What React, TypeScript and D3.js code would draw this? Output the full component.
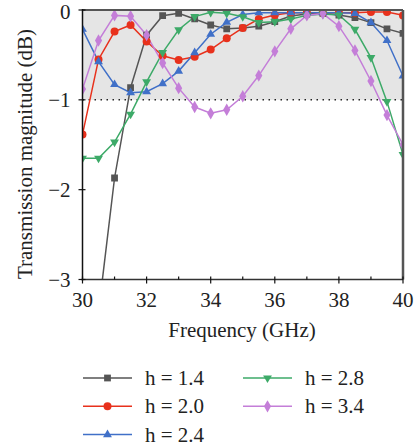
import React from "react";
import * as d3 from "d3";

const freqs = d3.range(30, 40.01, 0.5).map((v) => +v.toFixed(1));
const h14 = [null, -3.36, -1.87, -0.865, -0.28, -0.063, -0.037, -0.1, -0.167, -0.21, -0.2, -0.18, -0.13, -0.067, -0.045, -0.037, -0.056, -0.085, -0.14, -0.21, -0.26];
const h20 = [-1.385, -0.55, -0.24, -0.167, -0.35, -0.51, -0.557, -0.52, -0.44, -0.315, -0.2, -0.1, -0.056, -0.03, -0.03, -0.03, -0.03, -0.03, -0.022, -0.022, -0.06];
const h24 = [-0.215, -0.575, -0.83, -0.92, -0.91, -0.82, -0.68, -0.475, -0.27, -0.137, -0.05, -0.03, -0.03, -0.03, -0.03, -0.03, -0.03, -0.037, -0.14, -0.34, -0.735];
const h28 = [-1.65, -1.65, -1.47, -1.16, -0.8, -0.475, -0.22, -0.074, -0.026, -0.037, -0.075, -0.14, -0.13, -0.1, -0.06, -0.045, -0.056, -0.215, -0.53, -1.02, -1.61];
const h34 = [-0.88, -0.34, -0.06, -0.07, -0.28, -0.59, -0.87, -1.08, -1.15, -1.11, -0.96, -0.73, -0.46, -0.21, -0.06, -0.04, -0.18, -0.45, -0.79, -1.17, -1.5];

const seriesNames = ["h = 1.4", "h = 2.0", "h = 2.4", "h = 2.8", "h = 3.4"];
const seriesData = [h14, h20, h24, h28, h34];
const colors = ["#555555", "#e8311c", "#4070c8", "#3daa68", "#c47ed8"];
const markers = ["square", "circle", "triangle", "triangleDown", "diamond"];
const xTicks = [30, 32, 34, 36, 38, 40];
const xMinor = [31, 33, 35, 37, 39];
const yTicks = [0, -1, -2, -3];

const W = 417, H = 447;
const L = 82.5, R = 403, T = 10, B = 279.5;
const FONT = "'Liberation Serif', 'DejaVu Serif', serif";
const FS = 21;

function Marker({ type, x, y, color }: { type: string; x: number; y: number; color: string }) {
  let sym;
  if (type === "square") sym = d3.symbol(d3.symbolSquare, 46)();
  else if (type === "circle") sym = d3.symbol(d3.symbolCircle, 50)();
  else if (type === "triangle") sym = d3.symbol(d3.symbolTriangle, 34)();
  else if (type === "triangleDown") sym = d3.symbol(d3.symbolTriangle, 34)();
  else sym = d3.symbol(d3.symbolDiamond, 44)();
  const rot = type === "triangleDown" ? 180 : 0;
  return <path d={sym as string} transform={`translate(${x},${y}) rotate(${rot})`} fill={color} stroke="none" />;
}

export default function App() {
  const x = d3.scaleLinear().domain([30, 40]).range([L, R]);
  const y = d3.scaleLinear().domain([-3, 0]).range([B, T]);
  const line = d3
    .line<[number, number | null]>()
    .defined((d) => d[1] !== null)
    .x((d) => x(d[0]))
    .y((d) => y(d[1] as number));

  return (
    <svg width={W} height={H} style={{ position: "absolute", left: 0, top: 0 }} fontFamily={FONT}>
      <defs>
        <clipPath id="plotclip">
          <rect x={L} y={T} width={R - L} height={B - T} />
        </clipPath>
      </defs>
      <rect x={L} y={y(0)} width={R - L} height={y(-1) - y(0)} fill="#e5e5e5" />
      <line x1={L} x2={R} y1={y(-1)} y2={y(-1)} stroke="#222" strokeWidth={1.5} strokeDasharray="1.5,4.5" />
      <g clipPath="url(#plotclip)">
        {seriesData.map((s, i) => (
          <path
            key={i}
            d={line(freqs.map((f, j) => [f, s[j]]) as [number, number | null][]) || ""}
            fill="none"
            stroke={colors[i]}
            strokeWidth={1.5}
          />
        ))}
        {seriesData.map((s, i) =>
          s.map((v, j) =>
            v === null ? null : <Marker key={`${i}-${j}`} type={markers[i]} x={x(freqs[j])} y={y(v)} color={colors[i]} />
          )
        )}
      </g>
      {/* frame */}
      <line x1={L} x2={R} y1={T} y2={T} stroke="#555" strokeWidth={2} />
      <line x1={R} x2={R} y1={T} y2={B} stroke="#555" strokeWidth={2.5} />
      <line x1={L} x2={L} y1={T - 1} y2={B + 1} stroke="#111" strokeWidth={1.5} />
      <line x1={L - 1} x2={R} y1={B} y2={B} stroke="#333" strokeWidth={1.5} />
      {xTicks.map((t) => (
        <g key={t}>
          <line x1={x(t)} x2={x(t)} y1={B - 3} y2={B + 4} stroke="#111" strokeWidth={1.2} />
          <text x={x(t)} y={307} textAnchor="middle" fontSize={FS} fill="#222">{t}</text>
        </g>
      ))}
      {xMinor.map((t) => (
        <line key={t} x1={x(t)} x2={x(t)} y1={B - 3} y2={B} stroke="#111" strokeWidth={1.2} />
      ))}
      {yTicks.map((t) => (
        <g key={t}>
          <line x1={L - 4} x2={L + 3} y1={y(t)} y2={y(t)} stroke="#111" strokeWidth={1.2} />
          <text x={L - 12} y={t === 0 ? 19 : y(t) + 7.5} textAnchor="end" fontSize={FS} fill="#222">{t === 0 ? "0" : "\u2212" + Math.abs(t)}</text>
        </g>
      ))}
      <text x={242} y={337} textAnchor="middle" fontSize={FS} fill="#222">Frequency (GHz)</text>
      <text transform={`translate(32, 154) rotate(-90)`} textAnchor="middle" fontSize={FS} fill="#222">
        Transmission magnitude (dB)
      </text>
      {seriesNames.map((n, i) => {
        const col = i < 3 ? 0 : 1;
        const row = i < 3 ? i : i - 3;
        const lx = col === 0 ? 83 : 243;
        const ly = 378 + row * 28.3;
        return (
          <g key={n}>
            <line x1={lx} x2={lx + 49} y1={ly} y2={ly} stroke={colors[i]} strokeWidth={1.5} />
            <Marker type={markers[i]} x={lx + 24.5} y={ly} color={colors[i]} />
            <text x={lx + 62} y={ly + 7} fontSize={FS} fill="#222">{n}</text>
          </g>
        );
      })}
    </svg>
  );
}
